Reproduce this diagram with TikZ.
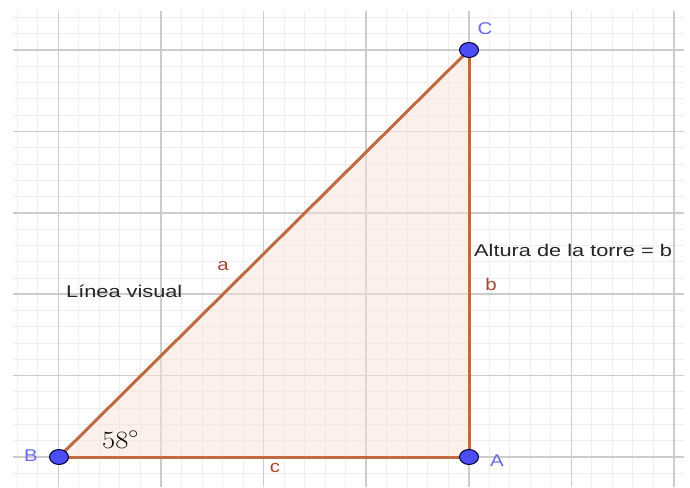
\documentclass[tikz,border=0pt]{standalone}
\usepackage{fontspec}
\usetikzlibrary{shapes.geometric}
\newfontfamily\gsans{Liberation Sans}
\definecolor{minorc}{RGB}{238,238,238}
\definecolor{majorc}{RGB}{204,204,204}
\definecolor{edgec}{RGB}{190,106,66}
\definecolor{fillc}{RGB}{250,228,214}
\definecolor{ptc}{RGB}{77,77,245}
\definecolor{ptlab}{RGB}{105,105,235}
\definecolor{seglab}{RGB}{165,70,50}
\tikzset{
  minorline/.style={draw=minorc,line width=0.8pt},
  majorline/.style={draw=majorc,line width=1.6pt},
  edge/.style={draw=edgec,line width=3pt},
  pt/.style={ellipse,draw=black!80!blue,line width=1pt,fill=ptc,minimum width=19pt,minimum height=15pt,inner sep=0pt},
  ptlabel/.style={font=\gsans\fontsize{17}{17}\selectfont,text=ptlab,inner sep=0pt},
  seglabel/.style={font=\gsans\fontsize{17}{17}\selectfont,text=seglab,inner sep=0pt},
  txt/.style={font=\gsans\fontsize{17}{17}\selectfont,text=black!85,inner sep=0pt,anchor=base west}
}
\begin{document}
\begin{tikzpicture}[x=1pt,y=-1pt]
\useasboundingbox (0,0) rectangle (690,487);
\fill[white] (0,0) rectangle (690,487);
\begin{scope}
  \clip (13,12) rectangle (684,487);
  \foreach \i in {-2,...,31} \draw[minorline] ({58.3+20.52*\i},0) -- ({58.3+20.52*\i},487);
  \foreach \j in {-2,...,28} \draw[minorline] (0,{457-16.28*\j}) -- (690,{457-16.28*\j});
  \foreach \i in {0,...,6} \draw[majorline] ({58.3+102.6*\i},0) -- ({58.3+102.6*\i},487);
  \foreach \j in {0,...,5} \draw[majorline] (0,{457-81.4*\j}) -- (690,{457-81.4*\j});
\end{scope}
\coordinate (pB) at (59,457);
\coordinate (pA) at (469,457);
\coordinate (pC) at (469,50);
\fill[fillc,fill opacity=0.5] (pB) -- (pA) -- (pC) -- cycle;
\draw[edge] (pB) -- (pA);
\draw[edge] (pA) -- (pC);
\draw[edge] (pC) -- (pB);
\node[pt] (B) at (pB) {};
\node[pt] (A) at (pA) {};
\node[pt] (C) at (pC) {};
\node[ptlabel] (lC) at (485,29) {\scalebox{1.2}[1]{C}};
\node[ptlabel] (lB) at (31,456) {\scalebox{1.2}[1]{B}};
\node[ptlabel] (lA) at (497,461) {\scalebox{1.2}[1]{A}};
\node[seglabel] (la) at (223,266) {\scalebox{1.2}[1]{a}};
\node[seglabel] (lb) at (491,284) {\scalebox{1.2}[1]{b}};
\node[seglabel] (lc) at (275,468) {\scalebox{1.2}[1]{c}};
\node[txt] (lv) at (66,297.5) {\scalebox{1.28}[1]{Línea visual}};
\node[txt] (alt) at (474,256) {\scalebox{1.28}[1]{Altura de la torre = b}};
\node[inner sep=0pt,anchor=base west,font=\fontsize{23}{23}\selectfont] (ang) at (102,448) {\scalebox{1.15}[1]{$58^\circ$}};
\end{tikzpicture}
\end{document}
